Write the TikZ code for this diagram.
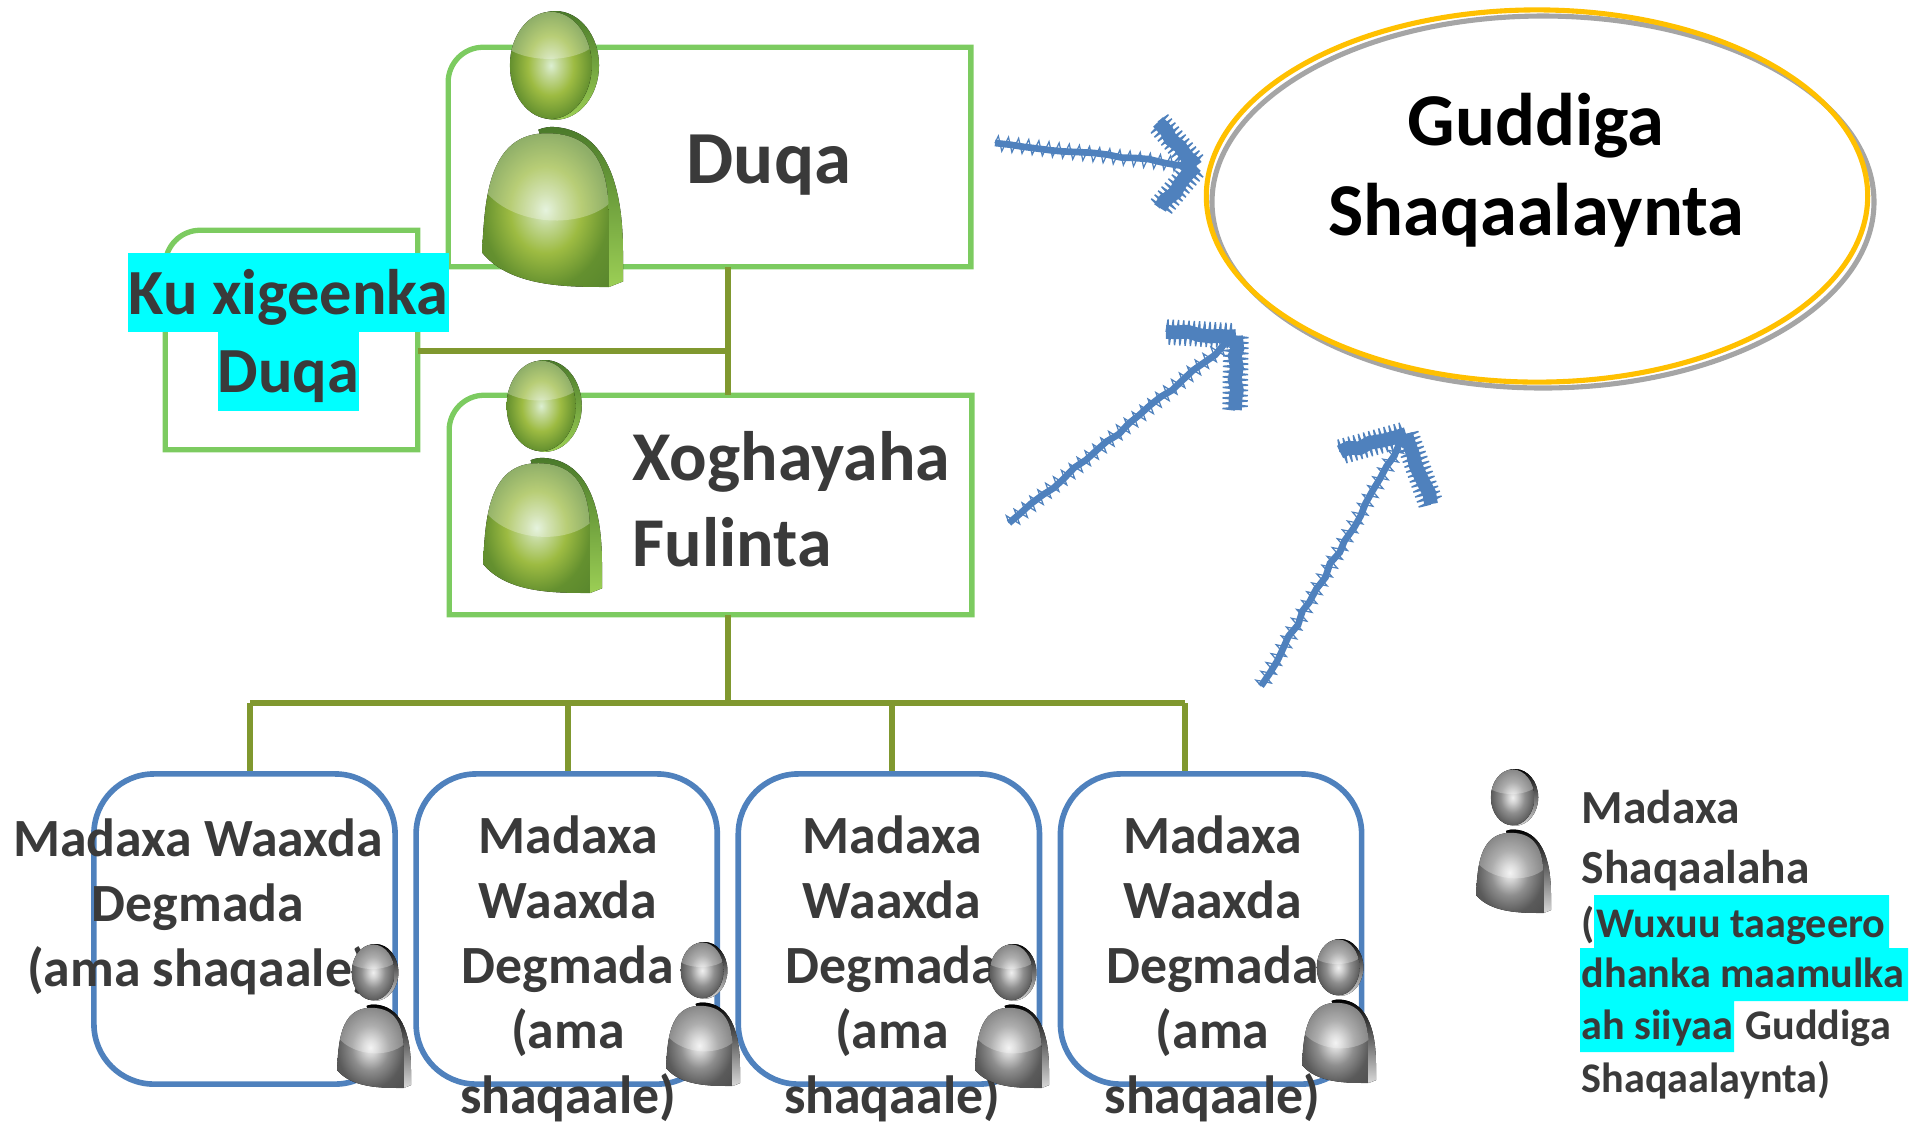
\documentclass[tikz,border=0pt]{standalone}
\usepackage{fontspec}
\setmainfont{Carlito}
\usetikzlibrary{shapes,positioning,decorations.pathmorphing}

\definecolor{boxgreen}{HTML}{7CCB60}
\definecolor{lineolive}{HTML}{80982F}
\definecolor{boxblue}{HTML}{4F81BD}
\definecolor{ringgold}{HTML}{FFC000}
\definecolor{ringgray}{HTML}{A5A5A5}
\definecolor{inkgray}{HTML}{3A3A3A}
\definecolor{markcyan}{HTML}{00FFFF}
\definecolor{ga}{HTML}{DCEFD2}
\definecolor{gb}{HTML}{C4D99A}
\definecolor{gc}{HTML}{9DBB42}
\definecolor{gd}{HTML}{64902F}
\definecolor{ge}{HTML}{4A7A2A}
\definecolor{gf}{HTML}{9CCF55}
\definecolor{ya}{HTML}{F0F0F0}
\definecolor{yb}{HTML}{D2D2D2}
\definecolor{yc}{HTML}{8E8E8E}
\definecolor{yd}{HTML}{5A5A5A}
\definecolor{ye}{HTML}{404040}

\pgfdeclareradialshading{persongreen}{\pgfpointorigin}{color(0bp)=(ga);
  color(5bp)=(gb);color(14bp)=(gc);color(25bp)=(gd);color(50bp)=(ge)}
\pgfdeclareradialshading{persongray}{\pgfpointorigin}{color(0bp)=(ya);
  color(5bp)=(yb);color(14bp)=(yc);color(25bp)=(yd);color(50bp)=(ye)}

\newcommand{\personshape}[3]{
  \fill[top color=#2,bottom color=#3] (52,19.7) ellipse (31 and 19.7);
  \fill[top color=#2,bottom color=#3] (40,43) .. controls (45,42) and (48,42) .. (50.6,42)
    .. controls (85,43) and (100,60) .. (100,87.5) -- (100,98) -- (90,100) -- (50,60) -- cycle;
  \begin{scope}
    \path[clip] (48.8,19.7) ellipse (29 and 19.4);
    \fill[shading=#1] (19.8,0.3) rectangle (77.8,39.1);
    \fill[white,opacity=.28] (15,-2) -- (15,12.4) .. controls (30,19) and (65,19) .. (80,12.4) -- (80,-2) -- cycle;
  \end{scope}
  \begin{scope}
    \path[clip] (0,87.5) .. controls (2,70) and (3,44) .. (46.6,44.3)
      .. controls (78,44.5) and (90,55) .. (90,75) -- (90,100)
      .. controls (60,100) and (20,100) .. (0,87.5) -- cycle;
    \fill[shading=#1] (0,44) rectangle (90,100);
    \fill[white,opacity=.28] (-2,40) -- (-2,62) .. controls (15,78) and (70,80) .. (92,69) -- (92,40) -- cycle;
  \end{scope}
}

\begin{document}
\begin{tikzpicture}[x=0.01cm,y=-0.01cm,node distance=3.22cm,
  font=\bfseries,text=inkgray,
  line box/.style={minimum width=#1,inner sep=0pt},
  green box/.style={line box=5.21cm,minimum height=2.18cm},
  green line/.style={draw=boxgreen,line width=1.5pt},
  olive line/.style={draw=lineolive,line width=1.5pt},
  blue box/.style={draw=boxblue,line width=1.6pt,rounded corners=0.6cm,
    minimum width=3.01cm,minimum height=3.1cm,inner sep=0pt},
  big label/.style={anchor=base west,inner sep=0pt,font=\bfseries\fontsize{19.9pt}{24pt}\selectfont},
  mark label/.style={anchor=base,fill=markcyan,inner sep=0pt,font=\bfseries\fontsize{18.3pt}{22pt}\selectfont},
  blue label/.style={align=center,inner sep=0pt,font=\bfseries\fontsize{15.3pt}{18.5pt}\selectfont},
  key label/.style={anchor=base west,inner sep=0pt,font=\bfseries\fontsize{13.5pt}{16pt}\selectfont},
  key small/.style={anchor=base west,inner sep=0pt,font=\bfseries\fontsize{12pt}{14pt}\selectfont},
  shaft core/.style={draw=boxblue,line width=1.9pt,miter limit=2,decorate,
    decoration={random steps,segment length=4pt,amplitude=0.5pt}},
  shaft fringe/.style={draw=boxblue,line width=0.35pt,miter limit=6,decorate,
    decoration={zigzag,segment length=2.9pt,amplitude=2.1pt}},
  arm core/.style={draw=boxblue,line width=3.9pt,miter limit=2,decorate,
    decoration={random steps,segment length=3pt,amplitude=0.6pt}},
  arm fringe/.style={draw=boxblue,line width=0.4pt,miter limit=6,decorate,
    decoration={zigzag,segment length=1.5pt,amplitude=3.6pt}},
  green person/.pic={\personshape{persongreen}{ge}{gf}},
  gray person/.pic={\personshape{persongray}{black}{black!15}}]

  \pgfmathsetseed{11}
  \useasboundingbox (0,0) rectangle (1930,1123);

  \node[green box] (duqa) at (709.5,157) {};
  \node[green box,minimum width=2.51cm] (xigeen) at (291.5,340) {};
  \node[green box] (xog) at (710.5,505) {};
  \foreach \b in {duqa,xigeen,xog}
    \draw[green line] (\b.south west) [rounded corners=0.35cm] -- (\b.north west)
      [sharp corners] -- (\b.north east) -- (\b.south east) -- cycle;

  \node[blue box] (w1) at (244.5,929) {};
  \node[blue box] (w2) [right of=w1] {};
  \node[blue box] (w3) [right of=w2] {};
  \node[blue box] (w4) [right of=w3] {};

  \coordinate (top join) at (728,351);
  \coordinate (low join) at (728,703);
  \coordinate (drop1) at (250,703);
  \coordinate (drop2) at (568,703);
  \coordinate (drop3) at (892,703);
  \coordinate (drop4) at (1185,703);

  \path[olive line]
    (top join |- duqa.south) edge (top join |- xog.north)
    (xigeen.east |- top join) edge (top join)
    (low join |- xog.south) edge (low join)
    (drop1) edge (drop4)
    (drop1) edge (drop1 |- w1.north)
    (drop2) edge (drop2 |- w2.north)
    (drop3) edge (drop3 |- w3.north)
    (drop4) edge (drop4 |- w4.north);

  \node[big label,font=\bfseries\fontsize{21.3pt}{24pt}\selectfont] (l1) at (686,183) {Duqa};
  \node[big label] (l2) at (632,480) {Xoghayaha};
  \node[big label] (l3) at (632,566) {Fulinta};

  \node[mark label,minimum width=3.21cm,text height=0.61cm,text depth=0.18cm] (m1) at (288.5,314) {Ku xigeenka};
  \node[mark label,minimum width=1.41cm,text height=0.6cm,text depth=0.19cm] (m2) at (288.5,392) {Duqa};

  \draw[ringgray,line width=1.45pt,fill=white] (1543,202) ellipse (331 and 186);
  \node[ellipse,draw=ringgold,line width=1.45pt,minimum width=6.61cm,minimum height=3.72cm] (guddi) at (1537,196) {};
  \node[align=center,inner sep=0pt,text=black,font=\bfseries\fontsize{21.2pt}{25.6pt}\selectfont] (g1) at (1536,170) {Guddiga\\Shaqaalaynta};

  \coordinate (a1) at (995,143);
  \coordinate (tip1) at (1196,166);
  \coordinate (up1) at (1158,122);
  \coordinate (down1) at (1160,208);
  \coordinate (a2) at (1009,523);
  \coordinate (tip2) at (1236,336);
  \coordinate (up2) at (1166,332);
  \coordinate (down2) at (1235,410);
  \coordinate (a3) at (1261,686);
  \coordinate (tip3) at (1406,434);
  \coordinate (up3) at (1340,452);
  \coordinate (down3) at (1431,504);
  \foreach \a in {1,2,3} {
    \draw[shaft core] (a\a) -- (tip\a);
    \draw[shaft fringe] (a\a) -- (tip\a);
    \foreach \s in {up,down} {
      \draw[arm core] (\s\a) -- (tip\a);
      \draw[arm fringe] (\s\a) -- (tip\a);
    }
  }

  \node[blue label] (t1) at (198,907) {Madaxa Waaxda\\Degmada\\(ama shaqaale)};
  \node[blue label] (t2) at (568,969) {Madaxa\\Waaxda\\Degmada\\(ama\\shaqaale)};
  \node[blue label] (t3) at (892,969) {Madaxa\\Waaxda\\Degmada\\(ama\\shaqaale)};
  \node[blue label] (t4) at (1212.5,969) {Madaxa\\Waaxda\\Degmada\\(ama\\shaqaale)};

  \node[key label] (k1) at (1581,823) {Madaxa};
  \node[key label] (k2) at (1581,883) {Shaqaalaha};
  \node[key small] (k3) at (1581,937) {(};
  \fill[markcyan] (1594,895) rectangle (1889,948) (1580,948) rectangle (1908,1001) (1580,1001) rectangle (1734,1052);
  \node[key small] (k4) at (1596,937) {Wuxuu taageero};
  \node[key small] (k5) at (1581,987) {dhanka maamulka};
  \node[key small] (k6) at (1581,1039) {ah siiyaa};
  \node[key small] (k7) at (1745,1039) {Guddiga};
  \node[key small] (k8) at (1581,1092) {Shaqaalaynta)};

  \pic[xscale=1.41,yscale=2.76] (p1) at (482,11) {green person};
  \pic[xscale=1.19,yscale=2.33] (p2) at (483,360) {green person};
  \pic[xscale=0.74,yscale=1.44] (p3) at (337,944) {gray person};
  \pic[xscale=0.74,yscale=1.44] (p4) at (666,942) {gray person};
  \pic[xscale=0.74,yscale=1.44] (p5) at (975,944) {gray person};
  \pic[xscale=0.74,yscale=1.44] (p6) at (1302,939) {gray person};
  \pic[xscale=0.75,yscale=1.44] (p7) at (1476,769) {gray person};
\end{tikzpicture}
\end{document}
